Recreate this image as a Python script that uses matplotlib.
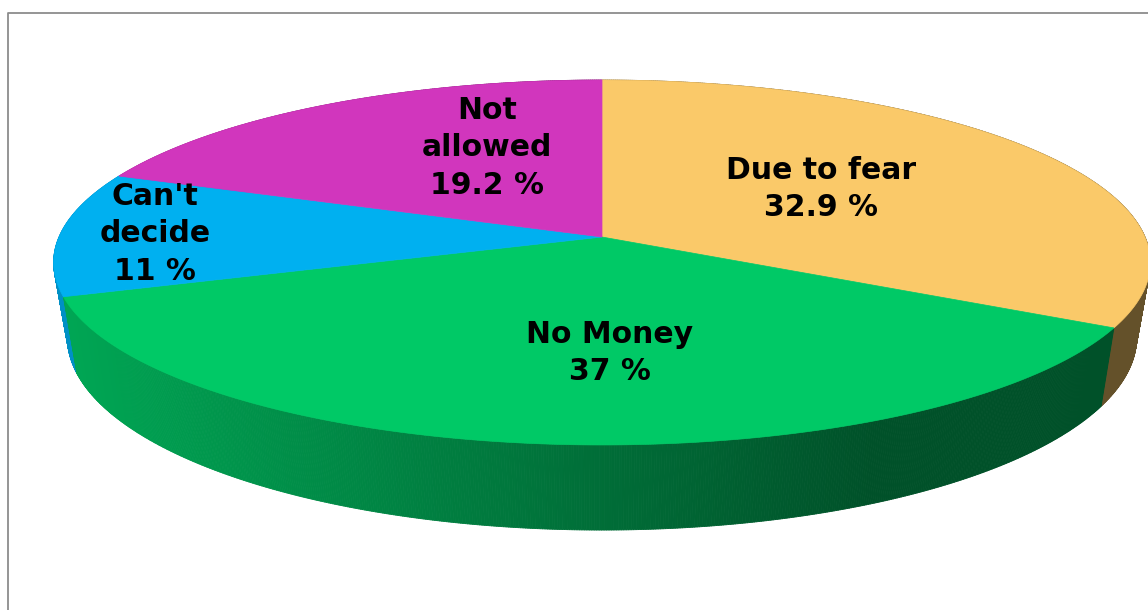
import numpy as np
import matplotlib
matplotlib.use("Agg")
import matplotlib.pyplot as plt
from matplotlib.patches import Polygon
from matplotlib.collections import PolyCollection

# slices, clockwise from the back (12 o'clock)
labels = ["Due to fear\n32.9 %", "No Money\n37 %", "Can't\ndecide\n11 %", "Not\nallowed\n19.2 %"]
values = [32.9, 37.0, 11.0, 19.2]
colors = [(0.98, 0.79, 0.41), (0.0, 0.79, 0.40), (0.0, 0.69, 0.94), (0.82, 0.21, 0.74)]
label_pos = [(821, 189), (610, 353), (155, 234), (487, 148)]

W, H = 1148, 610
cx, cy = 602, 237      # centre of pie on screen
C = 543                # horizontal radius
B = 145.8              # vertical radius (before perspective)
p = 0.1397             # perspective strength
T = 73.2               # thickness
kb = 0.975             # bottom rim is a bit narrower


def proj(theta, bottom=False):
    X = np.sin(theta)
    Z = np.cos(theta)
    w = 1 + p * Z
    x = cx + C * X / w * (kb if bottom else 1)
    y = (cy - B * Z + (T if bottom else 0)) / w
    return x, y


fig = plt.figure(figsize=(W / 100, H / 100), dpi=100)
ax = fig.add_axes([0, 0, 1, 1])
ax.set_xlim(0, W)
ax.set_ylim(H, 0)
ax.axis("off")

fr = np.array(values) / np.sum(values)
edges = np.concatenate([[0], np.cumsum(fr)]) * 2 * np.pi
edges[-1] = 2 * np.pi

# side walls
quads = []
qcols = []
depth = []
for i in range(len(values)):
    a0, a1 = edges[i], edges[i + 1]
    n = max(int((a1 - a0) / 0.004), 2)
    th = np.linspace(a0, a1, n + 1)
    for k in range(n):
        t0, t1 = th[k], th[k + 1]
        x0, y0 = proj(t0)
        x1, y1 = proj(t1)
        x0b, y0b = proj(t0, True)
        x1b, y1b = proj(t1, True)
        quads.append([(x0, y0), (x1, y1), (x1b, y1b), (x0b, y0b)])
        xm = (x0 + x1) / 2
        f = np.clip((xm - 70) / (880 - 70), 0, 1)
        s = 0.82 - 0.42 * f
        c = tuple(v * s for v in colors[i])
        qcols.append(c)
        depth.append(np.cos((t0 + t1) / 2))
order = np.argsort(depth)[::-1]
pc = PolyCollection([quads[j] for j in order], facecolors=[qcols[j] for j in order],
                    edgecolors=[qcols[j] for j in order], linewidths=0.6)
ax.add_collection(pc)

# top faces
for i in range(len(values)):
    th = np.linspace(edges[i], edges[i + 1], 300)
    xs, ys = proj(th)
    pts = [(cx, cy)] + list(zip(xs, ys))
    ax.add_patch(Polygon(pts, closed=True, facecolor=colors[i], edgecolor=colors[i], lw=0.5))

for lab, (lx, ly) in zip(labels, label_pos):
    ax.text(lx, ly, lab, ha="center", va="center", fontsize=21.5, fontweight="bold",
            family="DejaVu Sans", color="black", linespacing=1.38)

# chart area border
ax.plot([8, 8, W + 5], [H + 5, 13, 13], color="#8c8c8c", lw=1.3, solid_capstyle="butt")

fig.savefig("out.png", dpi=100)
